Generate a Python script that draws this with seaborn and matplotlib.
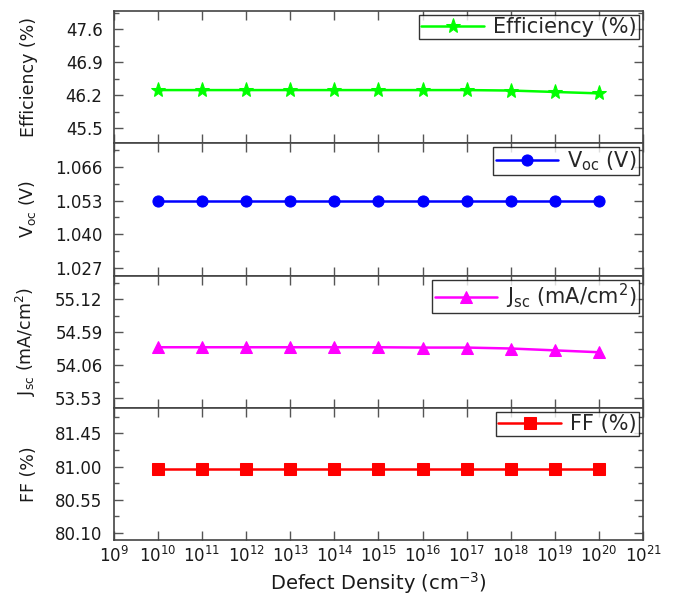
import numpy as np
import pandas as pd
import seaborn as sns
import matplotlib.pyplot as plt
from matplotlib.ticker import FixedLocator, AutoMinorLocator, FixedFormatter, NullLocator

# data
density = [1e10, 1e11, 1e12, 1e13, 1e14, 1e15, 1e16, 1e17, 1e18, 1e19, 1e20]
efficiency = [46.31, 46.31, 46.31, 46.31, 46.31, 46.31, 46.31, 46.31, 46.30, 46.27, 46.24]
voc = [1.053] * 11
jsc = [54.35, 54.35, 54.35, 54.35, 54.35, 54.35, 54.345, 54.345, 54.33, 54.30, 54.27]
ff = [80.96] * 11

eff_ticks = [45.5, 46.2, 46.9, 47.6]
voc_ticks = [1.027, 1.040, 1.053, 1.066]
jsc_ticks = [53.53, 54.06, 54.59, 55.12]
ff_ticks = [80.10, 80.55, 81.00, 81.45]

df = pd.DataFrame({"density": density, "eff": efficiency, "voc": voc, "jsc": jsc, "ff": ff})

sns.set_theme(style="ticks")
plt.rcParams['font.family'] = ['DejaVu Sans']
plt.rcParams['mathtext.fontset'] = 'dejavusans'
plt.rcParams['mathtext.default'] = 'regular'

fig, axes = plt.subplots(4, 1, figsize=(6.77, 5.95), dpi=100, sharex=True)
fig.subplots_adjust(left=0.168, right=0.950, bottom=0.0924, top=0.9815, hspace=0)

panels = [
    ("eff", "#00ff00", "*", 11, "Efficiency (%)", "Efficiency (%)", eff_ticks, "{:.1f}", (45.18, 47.99)),
    ("voc", "#0000ff", "o", 8, "$V_{oc}$ (V)", "$V_{oc}$ (V)", voc_ticks, "{:.3f}", (1.0242, 1.075)),
    ("jsc", "#ff00ff", "^", 8, "$J_{sc}$ (mA/cm$^2$)", "$J_{sc}$ (mA/cm$^2$)", jsc_ticks, "{:.2f}", (53.38, 55.50)),
    ("ff", "#ff0000", "s", 8, "FF (%)", "FF (%)", ff_ticks, "{:.2f}", (80.0, 81.80)),
]

text_col = "#1a1a1a"

for ax, (col, color, mk, ms, label, ylabel, ticks, fmt, ylim) in zip(axes, panels):
    sns.lineplot(data=df, x="density", y=col, ax=ax, color=color, marker=mk,
                 markersize=ms, markeredgecolor=color, linewidth=1.8, label=label)
    ax.set_xscale("log")
    ax.set_xlim(1e9, 1e21)
    ax.set_ylim(*ylim)
    ax.yaxis.set_major_locator(FixedLocator(ticks))
    ax.yaxis.set_major_formatter(FixedFormatter([fmt.format(t) for t in ticks]))
    ax.yaxis.set_minor_locator(AutoMinorLocator(2))
    ax.set_ylabel(ylabel, fontsize=12.5, color=text_col, labelpad=12)
    ax.set_xlabel("")
    ax.tick_params(axis="both", which="both", direction="in", top=True, right=True,
                   labelsize=12, colors="#555555", labelcolor=text_col)
    ax.tick_params(axis="both", which="major", length=6.5, width=1)
    ax.tick_params(axis="y", which="major", pad=8)
    ax.tick_params(axis="y", which="minor", length=3.5, width=1)
    ax.xaxis.set_minor_locator(NullLocator())
    for s in ax.spines.values():
        s.set_color("#444444")
        s.set_linewidth(1.2)
    leg = ax.legend(loc="upper right", fontsize=15, frameon=True, fancybox=False,
                    edgecolor="black", borderaxespad=0.2, handlelength=3.0,
                    borderpad=0.1, handletextpad=0.45)
    leg.get_frame().set_linewidth(1.0)

axes[-1].set_xticks([10.0 ** k for k in range(9, 22)])
axes[-1].tick_params(axis="x", labelsize=12, pad=4)
axes[-1].set_xlabel("Defect Density (cm$^{-3}$)", fontsize=14, color=text_col, labelpad=3)
fig.align_ylabels(axes)

fig.savefig("out.png", dpi=100)
